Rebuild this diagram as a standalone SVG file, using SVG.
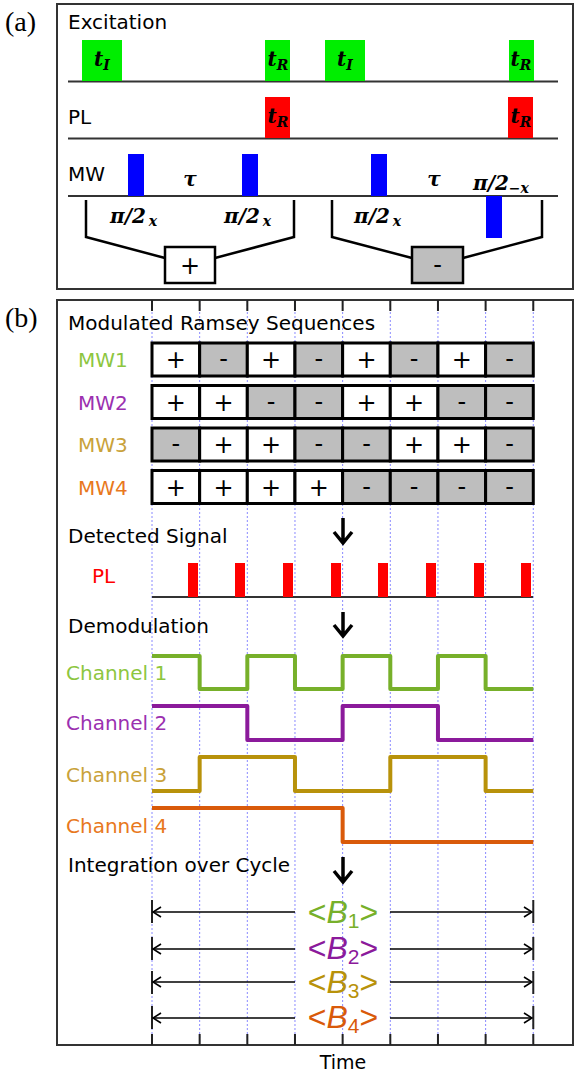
<svg xmlns="http://www.w3.org/2000/svg" width="575" height="1076" viewBox="0 0 575 1076">
<defs>
<style>
.sans{font-family:"DejaVu Sans","Liberation Sans",sans-serif;}
.lab{font-family:"DejaVu Sans","Liberation Sans",sans-serif;font-size:20px;fill:#000;}
.math{font-family:"DejaVu Serif","Liberation Serif",serif;font-weight:bold;font-style:italic;font-size:20px;fill:#000;}
.sub{font-size:14px;}
.pn{font-family:"Liberation Serif","DejaVu Serif",serif;font-size:28px;fill:#000;}
.frame{fill:none;stroke:#333;stroke-width:2;}
.base{stroke:#333;stroke-width:2;fill:none;}
.grid{stroke:#8a8aff;stroke-width:1;stroke-dasharray:2 2;fill:none;}
.tick{stroke:#222;stroke-width:2;}
.cp{fill:#fff;stroke:#000;stroke-width:3;}
.cm{fill:#bebebe;stroke:#000;stroke-width:3;}
.sg{font-family:"DejaVu Sans","Liberation Sans",sans-serif;font-size:24px;text-anchor:middle;fill:#000;}
.brk{fill:none;stroke:#000;stroke-width:2.5;}
.dn{fill:none;stroke:#000;stroke-width:3.5;}
.wave{fill:none;stroke-width:4;stroke-linejoin:round;}
.arr{stroke:#000;stroke-width:1.6;fill:none;}
.bl{font-family:"Liberation Sans","DejaVu Sans",sans-serif;font-size:32px;text-anchor:middle;}
</style>
<marker id="ah" markerWidth="10" markerHeight="12" refX="9" refY="6" orient="auto" markerUnits="userSpaceOnUse">
<path d="M1,1 L9,6 L1,11" fill="none" stroke="#000" stroke-width="1.6"/>
</marker>
</defs>

<g id="panel-a">
<text class="pn" x="5" y="31">(a)</text>
<rect class="frame" x="57" y="4" width="516" height="285"/>
<text class="lab" x="68" y="29">Excitation</text>
<text class="lab" x="68" y="124">PL</text>
<text class="lab" x="68" y="181">MW</text>
<line class="base" x1="68" y1="81.5" x2="558" y2="81.5"/>
<line class="base" x1="68" y1="138.5" x2="558" y2="138.5"/>
<line class="base" x1="68" y1="196" x2="558" y2="196"/>
</g>

<g id="exc-pulses">
<rect x="82" y="40" width="40" height="41" fill="#00ee00"/>
<rect x="265" y="40" width="25" height="41" fill="#00ee00"/>
<rect x="325" y="40" width="40" height="41" fill="#00ee00"/>
<rect x="509" y="40" width="25" height="41" fill="#00ee00"/>
<text class="math" x="102" y="66" text-anchor="middle">t<tspan class="sub" dy="4">I</tspan></text>
<text class="math" x="278" y="66" text-anchor="middle">t<tspan class="sub" dy="4">R</tspan></text>
<text class="math" x="345" y="66" text-anchor="middle">t<tspan class="sub" dy="4">I</tspan></text>
<text class="math" x="521" y="66" text-anchor="middle">t<tspan class="sub" dy="4">R</tspan></text>
</g>

<g id="pl-pulses">
<rect x="265" y="97" width="25" height="41" fill="#ff0000"/>
<rect x="508" y="97" width="25" height="41" fill="#ff0000"/>
<text class="math" x="278" y="123" text-anchor="middle">t<tspan class="sub" dy="4">R</tspan></text>
<text class="math" x="521" y="123" text-anchor="middle">t<tspan class="sub" dy="4">R</tspan></text>
</g>

<g id="mw-pulses">
<rect x="128" y="154" width="16" height="42" fill="#0000ff"/>
<rect x="242" y="154" width="16" height="42" fill="#0000ff"/>
<rect x="371" y="154" width="16" height="42" fill="#0000ff"/>
<rect x="486" y="196" width="16" height="42" fill="#0000ff"/>
<text class="math" x="190" y="186" text-anchor="middle">τ</text>
<text class="math" x="434" y="186" text-anchor="middle">τ</text>
<text class="math" x="110" y="223">π/2<tspan class="sub" dx="3" dy="3">x</tspan></text>
<text class="math" x="224" y="223">π/2<tspan class="sub" dx="3" dy="3">x</tspan></text>
<text class="math" x="354" y="223">π/2<tspan class="sub" dx="3" dy="3">x</tspan></text>
<text class="math" x="473" y="190">π/2<tspan class="sub" dy="3">−x</tspan></text>
</g>

<g id="bracket-plus">
<path class="brk" d="M86,200 V237 L165,258 M215,258 L294,237 V200"/>
<rect x="165" y="247" width="50" height="36" fill="#fff" stroke="#000" stroke-width="2.5"/>
<text class="sg" x="190" y="274">+</text>
</g>

<g id="bracket-minus">
<path class="brk" d="M332,200 V237 L412,258 M463,258 L542,237 V200"/>
<rect x="412" y="247" width="51" height="36" fill="#bebebe" stroke="#000" stroke-width="2.5"/>
<text class="sg" x="437.5" y="273">-</text>
</g>

<g id="panel-b">
<text class="pn" x="5" y="327">(b)</text>
<rect class="frame" x="57" y="300" width="516" height="745"/>
<g id="grid">
<line class="grid" x1="152" y1="300" x2="152" y2="1045"/>
<line class="grid" x1="199.66" y1="300" x2="199.66" y2="1045"/>
<line class="grid" x1="247.32" y1="300" x2="247.32" y2="1045"/>
<line class="grid" x1="294.98" y1="300" x2="294.98" y2="1045"/>
<line class="grid" x1="342.64" y1="300" x2="342.64" y2="1045"/>
<line class="grid" x1="390.3" y1="300" x2="390.3" y2="1045"/>
<line class="grid" x1="437.96" y1="300" x2="437.96" y2="1045"/>
<line class="grid" x1="485.62" y1="300" x2="485.62" y2="1045"/>
<line class="grid" x1="533.28" y1="300" x2="533.28" y2="1045"/>
</g>
<g id="ticks">
<path class="tick" d="M152,300V311 M199.66,300V311 M247.32,300V311 M294.98,300V311 M342.64,300V311 M390.3,300V311 M437.96,300V311 M485.62,300V311 M533.28,300V311"/>
<path class="tick" d="M152,1034V1045 M199.66,1034V1045 M247.32,1034V1045 M294.98,1034V1045 M342.64,1034V1045 M390.3,1034V1045 M437.96,1034V1045 M485.62,1034V1045 M533.28,1034V1045"/>
</g>
<text class="lab" x="68" y="330">Modulated Ramsey Sequences</text>
<text class="lab" x="68" y="543">Detected Signal</text>
<text class="lab" x="68" y="633">Demodulation</text>
<text class="lab" x="68" y="872">Integration over Cycle</text>
<text class="sans" x="343" y="1069" font-size="19" text-anchor="middle">Time</text>
</g>

<g id="mw1">
<text class="lab" x="78" y="367" style="fill:#8dc63f">MW1</text>
<rect class="cp" x="152" y="343" width="47.66" height="33"/><text class="sg" x="175.8" y="368">+</text>
<rect class="cm" x="199.66" y="343" width="47.66" height="33"/><text class="sg" x="223.5" y="367">-</text>
<rect class="cp" x="247.32" y="343" width="47.66" height="33"/><text class="sg" x="271.1" y="368">+</text>
<rect class="cm" x="294.98" y="343" width="47.66" height="33"/><text class="sg" x="318.8" y="367">-</text>
<rect class="cp" x="342.64" y="343" width="47.66" height="33"/><text class="sg" x="366.5" y="368">+</text>
<rect class="cm" x="390.3" y="343" width="47.66" height="33"/><text class="sg" x="414.1" y="367">-</text>
<rect class="cp" x="437.96" y="343" width="47.66" height="33"/><text class="sg" x="461.8" y="368">+</text>
<rect class="cm" x="485.62" y="343" width="47.66" height="33"/><text class="sg" x="509.5" y="367">-</text>
</g>

<g id="mw2">
<text class="lab" x="78" y="410" style="fill:#9b30b0">MW2</text>
<rect class="cp" x="152" y="385.5" width="47.66" height="33"/><text class="sg" x="175.8" y="410.5">+</text>
<rect class="cp" x="199.66" y="385.5" width="47.66" height="33"/><text class="sg" x="223.5" y="410.5">+</text>
<rect class="cm" x="247.32" y="385.5" width="47.66" height="33"/><text class="sg" x="271.1" y="409.5">-</text>
<rect class="cm" x="294.98" y="385.5" width="47.66" height="33"/><text class="sg" x="318.8" y="409.5">-</text>
<rect class="cp" x="342.64" y="385.5" width="47.66" height="33"/><text class="sg" x="366.5" y="410.5">+</text>
<rect class="cp" x="390.3" y="385.5" width="47.66" height="33"/><text class="sg" x="414.1" y="410.5">+</text>
<rect class="cm" x="437.96" y="385.5" width="47.66" height="33"/><text class="sg" x="461.8" y="409.5">-</text>
<rect class="cm" x="485.62" y="385.5" width="47.66" height="33"/><text class="sg" x="509.5" y="409.5">-</text>
</g>

<g id="mw3">
<text class="lab" x="78" y="452" style="fill:#c9a23a">MW3</text>
<rect class="cm" x="152" y="428" width="47.66" height="33"/><text class="sg" x="175.8" y="452">-</text>
<rect class="cp" x="199.66" y="428" width="47.66" height="33"/><text class="sg" x="223.5" y="453">+</text>
<rect class="cp" x="247.32" y="428" width="47.66" height="33"/><text class="sg" x="271.1" y="453">+</text>
<rect class="cm" x="294.98" y="428" width="47.66" height="33"/><text class="sg" x="318.8" y="452">-</text>
<rect class="cm" x="342.64" y="428" width="47.66" height="33"/><text class="sg" x="366.5" y="452">-</text>
<rect class="cp" x="390.3" y="428" width="47.66" height="33"/><text class="sg" x="414.1" y="453">+</text>
<rect class="cp" x="437.96" y="428" width="47.66" height="33"/><text class="sg" x="461.8" y="453">+</text>
<rect class="cm" x="485.62" y="428" width="47.66" height="33"/><text class="sg" x="509.5" y="452">-</text>
</g>

<g id="mw4">
<text class="lab" x="78" y="495" style="fill:#e87820">MW4</text>
<rect class="cp" x="152" y="470.5" width="47.66" height="33"/><text class="sg" x="175.8" y="495.5">+</text>
<rect class="cp" x="199.66" y="470.5" width="47.66" height="33"/><text class="sg" x="223.5" y="495.5">+</text>
<rect class="cp" x="247.32" y="470.5" width="47.66" height="33"/><text class="sg" x="271.1" y="495.5">+</text>
<rect class="cp" x="294.98" y="470.5" width="47.66" height="33"/><text class="sg" x="318.8" y="495.5">+</text>
<rect class="cm" x="342.64" y="470.5" width="47.66" height="33"/><text class="sg" x="366.5" y="494.5">-</text>
<rect class="cm" x="390.3" y="470.5" width="47.66" height="33"/><text class="sg" x="414.1" y="494.5">-</text>
<rect class="cm" x="437.96" y="470.5" width="47.66" height="33"/><text class="sg" x="461.8" y="494.5">-</text>
<rect class="cm" x="485.62" y="470.5" width="47.66" height="33"/><text class="sg" x="509.5" y="494.5">-</text>
</g>

<g id="detected">
<text class="lab" x="92" y="583" style="fill:#ff0000">PL</text>
<line class="base" x1="152" y1="597" x2="533" y2="597"/>
<rect x="188" y="563" width="10" height="34" fill="#ff0000"/>
<rect x="235" y="563" width="10" height="34" fill="#ff0000"/>
<rect x="283" y="563" width="10" height="34" fill="#ff0000"/>
<rect x="331" y="563" width="10" height="34" fill="#ff0000"/>
<rect x="378" y="563" width="10" height="34" fill="#ff0000"/>
<rect x="426" y="563" width="10" height="34" fill="#ff0000"/>
<rect x="474" y="563" width="10" height="34" fill="#ff0000"/>
<rect x="521" y="563" width="10" height="34" fill="#ff0000"/>
</g>

<g id="ch1">
<text class="lab" x="66" y="680" style="fill:#8dc63f">Channel 1</text>
<path class="wave" stroke="#77b02a" d="M152,656 H199.66 V689 H247.32 V656 H294.98 V689 H342.64 V656 H390.3 V689 H437.96 V656 H485.62 V689 H533.28"/>
</g>
<g id="ch2">
<text class="lab" x="66" y="730" style="fill:#9b30b0">Channel 2</text>
<path class="wave" stroke="#8b1a9b" d="M152,706 H247.32 V740 H342.64 V706 H437.96 V740 H533.28"/>
</g>
<g id="ch3">
<text class="lab" x="66" y="782" style="fill:#c9a23a">Channel 3</text>
<path class="wave" stroke="#b8920a" d="M152,791 H199.66 V757 H294.98 V791 H390.3 V757 H485.62 V791 H533.28"/>
</g>
<g id="ch4">
<text class="lab" x="66" y="833" style="fill:#e87820">Channel 4</text>
<path class="wave" stroke="#d95a0a" d="M152,808 H342.64 V842 H533.28"/>
</g>

<g id="connectors">
<path class="dn" d="M343,518 V543 M334,532 L343,543 L352,532"/>
<path class="dn" d="M343,612 V636 M334,625 L343,636 L352,625"/>
<path class="dn" d="M343,857 V882 M334,871 L343,882 L352,871"/>
<g id="integration-arrows">
<path class="tick" d="M152,900V923 M533.28,900V923 M152,937V960 M533.28,937V960 M152,971V994 M533.28,971V994 M152,1006V1029 M533.28,1006V1029"/>
<line class="arr" x1="295" y1="912" x2="153" y2="912" marker-end="url(#ah)"/>
<line class="arr" x1="390" y1="912" x2="532" y2="912" marker-end="url(#ah)"/>
<line class="arr" x1="295" y1="949" x2="153" y2="949" marker-end="url(#ah)"/>
<line class="arr" x1="390" y1="949" x2="532" y2="949" marker-end="url(#ah)"/>
<line class="arr" x1="295" y1="982" x2="153" y2="982" marker-end="url(#ah)"/>
<line class="arr" x1="390" y1="982" x2="532" y2="982" marker-end="url(#ah)"/>
<line class="arr" x1="295" y1="1018" x2="153" y2="1018" marker-end="url(#ah)"/>
<line class="arr" x1="390" y1="1018" x2="532" y2="1018" marker-end="url(#ah)"/>
</g>
</g>

<g id="b-labels">
<text class="bl" x="343" y="923" style="fill:#77b02a">&lt;<tspan font-style="italic">B</tspan><tspan font-size="21" dy="5">1</tspan><tspan dy="-5">&gt;</tspan></text>
<text class="bl" x="343" y="959" style="fill:#8b1a9b">&lt;<tspan font-style="italic">B</tspan><tspan font-size="21" dy="5">2</tspan><tspan dy="-5">&gt;</tspan></text>
<text class="bl" x="343" y="993" style="fill:#b8920a">&lt;<tspan font-style="italic">B</tspan><tspan font-size="21" dy="5">3</tspan><tspan dy="-5">&gt;</tspan></text>
<text class="bl" x="343" y="1028" style="fill:#d95a0a">&lt;<tspan font-style="italic">B</tspan><tspan font-size="21" dy="5">4</tspan><tspan dy="-5">&gt;</tspan></text>
</g>
</svg>
